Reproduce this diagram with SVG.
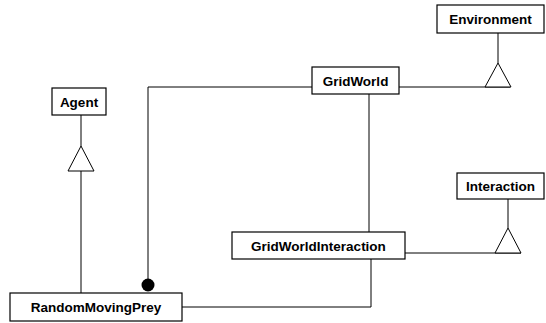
<svg xmlns="http://www.w3.org/2000/svg" width="546" height="323" viewBox="0 0 546 323">
<style>
.box{fill:#fff;stroke:#000;stroke-width:1.2}
.lbl{font-family:"Liberation Sans",Arial,sans-serif;font-weight:bold;font-size:13.5px;text-anchor:middle;fill:#000}
.ln{fill:none;stroke:#000;stroke-width:1}
.tri{fill:#fff;stroke:#000;stroke-width:1}
</style>
<rect width="546" height="323" fill="#fff"/>
<g id="connectors">
<polyline class="ln" points="399,87 510,87"/>
<polyline class="ln" points="498,33 498,63"/>
<polygon class="tri" points="498,63 485,87 511,87"/>
<polyline class="ln" points="81,115 81,146"/>
<polyline class="ln" points="81,171 81,293"/>
<polygon class="tri" points="81,146 68,171 94,171"/>
<polyline class="ln" points="508,199 508,228"/>
<polyline class="ln" points="405,253 521,253"/>
<polygon class="tri" points="508,228 495,253 521,253"/>
<polyline class="ln" points="312,87 148,87 148,280"/>
<circle cx="148" cy="285" r="6.5" fill="#000"/>
<polyline class="ln" points="369,94 369,232"/>
<polyline class="ln" points="182,307 371,307 371,259"/>
</g>
<g id="Environment"><rect class="box" x="437" y="5" width="107" height="28"/><text class="lbl" x="490.5" y="24">Environment</text></g>
<g id="GridWorld"><rect class="box" x="312" y="67" width="87" height="27"/><text class="lbl" x="355.5" y="85.5">GridWorld</text></g>
<g id="Agent"><rect class="box" x="52" y="88" width="54" height="27"/><text class="lbl" x="79" y="106.5">Agent</text></g>
<g id="Interaction"><rect class="box" x="457" y="173" width="87" height="26"/><text class="lbl" x="500.5" y="190.5">Interaction</text></g>
<g id="GridWorldInteraction"><rect class="box" x="232" y="232" width="173" height="27"/><text class="lbl" x="318.5" y="250.5">GridWorldInteraction</text></g>
<g id="RandomMovingPrey"><rect class="box" x="10" y="293" width="172" height="28"/><text class="lbl" x="96" y="311.5">RandomMovingPrey</text></g>
</svg>
